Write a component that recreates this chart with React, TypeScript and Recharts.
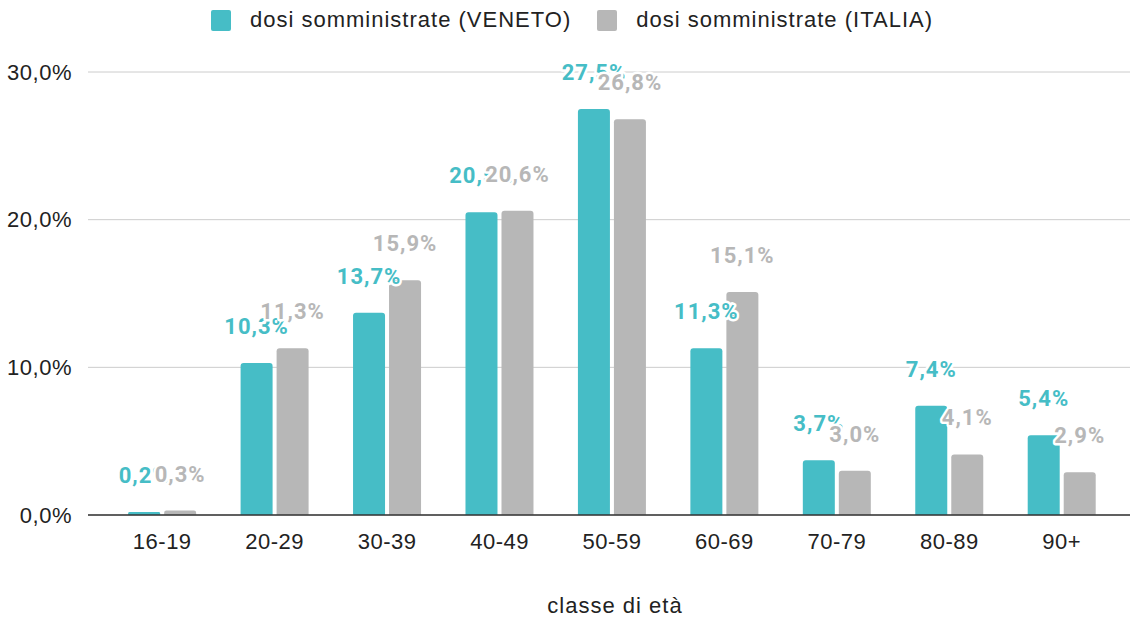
import { BarChart, Bar, XAxis, YAxis, CartesianGrid, Legend, LabelList } from "recharts"

const categories = ["16-19", "20-29", "30-39", "40-49", "50-59", "60-69", "70-79", "80-89", "90+"]
const veneto = [0.2, 10.3, 13.7, 20.5, 27.5, 11.3, 3.7, 7.4, 5.4]
const italia = [0.3, 11.3, 15.9, 20.6, 26.8, 15.1, 3.0, 4.1, 2.9]
const yTicks = [0, 10, 20, 30]

const seriesNames = {
  veneto: "dosi somministrate (VENETO)",
  italia: "dosi somministrate (ITALIA)",
}
const colors = { veneto: "#46bdc6", italia: "#b7b7b7" }
const sans = "'Liberation Sans', Arial, sans-serif"

const data = categories.map((c, i) => ({ name: c, veneto: veneto[i], italia: italia[i] }))

const pct = (v: number) => v.toFixed(1).replace(".", ",") + "%"

function makeLabel(color: string) {
  return (props: any) => {
    const { x, y, width, value } = props
    return (
      <text
        x={x + width / 2}
        y={y - 29}
        textAnchor="middle"
        fill={color}
        stroke="#fff"
        strokeWidth={5}
        strokeLinejoin="round"
        paintOrder="stroke"
        fontFamily="Roboto"
        fontWeight={700}
        fontSize={22}
        letterSpacing={1}
      >
        {pct(value)}
      </text>
    )
  }
}

function CustomLegend() {
  const items = [
    { key: "veneto", label: seriesNames.veneto, color: colors.veneto },
    { key: "italia", label: seriesNames.italia, color: colors.italia },
  ]
  return (
    <div
      style={{
        height: 40,
        display: "flex",
        justifyContent: "center",
        alignItems: "center",
        gap: 26,
        paddingLeft: 14,
        fontFamily: sans,
        fontSize: 22,
        letterSpacing: 1,
        color: "#222",
      }}
    >
      {items.map((it) => (
        <div key={it.key} style={{ display: "flex", alignItems: "center", gap: 19 }}>
          <div style={{ width: 20, height: 21, background: it.color, borderRadius: 2 }} />
          <span>{it.label}</span>
        </div>
      ))}
    </div>
  )
}

export default function App() {
  return (
    <div style={{ width: 1130, height: 619, background: "#fff" }}>
      <style>{`body{margin:0}`}</style>
      <BarChart
        width={1130}
        height={619}
        data={data}
        margin={{ top: 32, right: 0, left: 0, bottom: 0 }}
        barCategoryGap="19.7%"
        barGap={4}
      >
        <CartesianGrid vertical={false} stroke="#cccccc" />
        <Legend
          verticalAlign="top"
          content={<CustomLegend />}
          wrapperStyle={{ top: 0, left: 0, width: 1130, height: 40 }}
        />
        <XAxis
          dataKey="name"
          height={104}
          padding={{ left: 18, right: 12 }}
          tickLine={false}
          tickMargin={12}
          axisLine={{ stroke: "#333", strokeWidth: 1.5 }}
          tick={{ fontSize: 22, fill: "#222", fontFamily: sans, letterSpacing: 0.5 }}
          label={{
            value: "classe di età",
            position: "insideBottom",
            offset: 6,
            dx: 6,
            fontSize: 22,
            fill: "#222",
            fontFamily: sans,
            letterSpacing: 1,
          }}
        />
        <YAxis
          width={88}
          domain={[0, 30]}
          ticks={yTicks}
          tickFormatter={pct}
          axisLine={false}
          tickLine={false}
          tickMargin={10}
          tick={{ fontSize: 22, fill: "#222", fontFamily: sans, letterSpacing: 0.5 }}
        />
        <Bar dataKey="veneto" name={seriesNames.veneto} fill={colors.veneto} radius={[3, 3, 0, 0]} isAnimationActive={false}>
          <LabelList dataKey="veneto" content={makeLabel(colors.veneto)} />
        </Bar>
        <Bar dataKey="italia" name={seriesNames.italia} fill={colors.italia} radius={[3, 3, 0, 0]} isAnimationActive={false}>
          <LabelList dataKey="italia" content={makeLabel(colors.italia)} />
        </Bar>
      </BarChart>
    </div>
  )
}
